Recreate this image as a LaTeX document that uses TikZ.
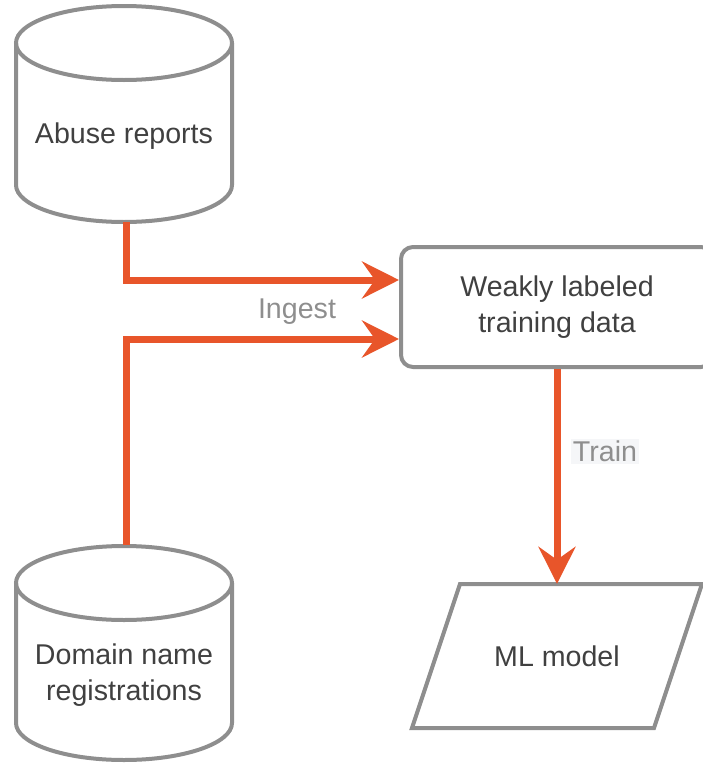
\documentclass[tikz,border=0pt]{standalone}
\usepackage{fontspec}
\setmainfont{Liberation Sans}
\usetikzlibrary{arrows.meta}
\definecolor{edgegray}{HTML}{8E8E8E}
\definecolor{textgray}{HTML}{404040}
\definecolor{flowred}{HTML}{E8552A}
\definecolor{labelbg}{HTML}{F5F6F8}
\tikzset{
  shapeline/.style={draw=edgegray, line width=4pt, line join=miter},
  storebody/.style={minimum width=216pt, minimum height=215pt, inner sep=0pt},
  databox/.style={draw=edgegray, line width=4pt, rounded corners=12pt,
    minimum width=312pt, minimum height=120pt, align=center, text=textgray},
  modelbody/.style={minimum width=242pt, minimum height=144pt, inner sep=0pt, text=textgray},
  storetext/.style={align=center, text=textgray},
  flow/.style={draw=flowred, line width=7pt,
    -{Stealth[length=37pt, width=37pt, inset=13pt]}},
  flowlabel/.style={text=edgegray, inner sep=2pt}
}
\begin{document}
\begin{tikzpicture}[x=1pt, y=-1pt, font=\fontsize{28.6}{36}\selectfont]
  \useasboundingbox (0,0) rectangle (703,766);
  % Abuse reports store
  \node[storebody] (abuse) at (124,114.5) {};
  \draw[shapeline] (16,43) -- (16,185) arc[start angle=180, end angle=0, x radius=108, y radius=37]
    -- (232,43);
  \draw[shapeline] (124,43) ellipse[x radius=108, y radius=37];
  \node[storetext] (abusetext) at (124,136) {Abuse reports};
  % Domain name store
  \node[storebody] (domain) at (124,653) {};
  \draw[shapeline] (16,583) -- (16,723) arc[start angle=180, end angle=0, x radius=108, y radius=37]
    -- (232,583);
  \draw[shapeline] (124,583) ellipse[x radius=108, y radius=37];
  \node[storetext] (domaintext) at (124,675) {Domain name\\registrations};
  % Training data and model
  \node[databox] (data) at (557,307) {Weakly labeled\\training data};
  \draw[shapeline] (412,728) -- (460,584) -- (702,584) -- (654,728) -- cycle;
  \node[modelbody] (model) at (557,656) {ML model};
  % Ingest arrows
  \draw[flow] ([xshift=2pt]abuse.south) |- ([yshift=27pt]data.west);
  \draw[flow] ([xshift=2pt]domain.north) |- ([yshift=-32pt]data.west);
  \node[flowlabel] (ingest) at (297,312) {Ingest};
  % Train arrow
  \draw[flow] (model.north |- data.south) -- (model.north);
  \node[flowlabel, fill=labelbg] (train) at (605,451) {Train};
\end{tikzpicture}
\end{document}
